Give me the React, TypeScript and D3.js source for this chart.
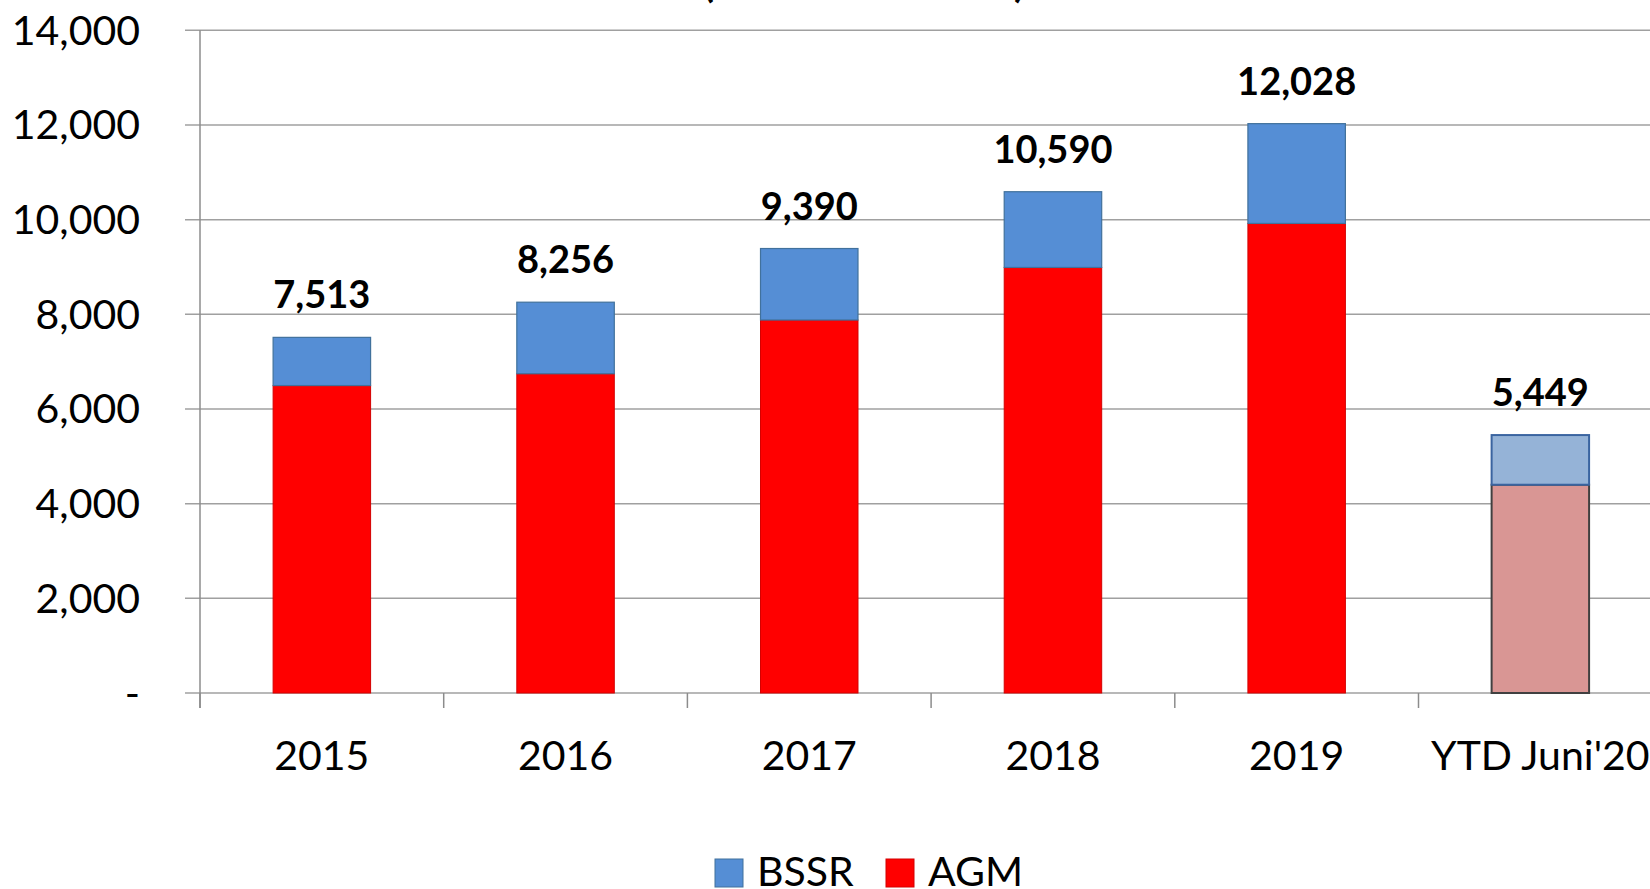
import React, { useEffect, useRef } from "react";
import * as d3 from "d3";

const categories = ["2015", "2016", "2017", "2018", "2019", "YTD Juni'20"];
const agm = [6495, 6745, 7880, 8990, 9920, 4400];
const bssr = [1018, 1511, 1510, 1600, 2108, 1049];
const totals = [7513, 8256, 9390, 10590, 12028, 5449];
const yTicks = [0, 2000, 4000, 6000, 8000, 10000, 12000, 14000];
const seriesNames = ["BSSR", "AGM"];
const titleText = "(Dalam Ribuan Ton)";

const W = 1650;
const H = 889;
const FONT = "Lato, 'Open Sans', sans-serif";

export default function App() {
  const ref = useRef<SVGSVGElement | null>(null);

  useEffect(() => {
    const svg = d3.select(ref.current);
    svg.selectAll("*").remove();

    const left = 200;
    const step = 243.7;
    const x = d3
      .scaleBand<string>()
      .domain(categories)
      .range([left, left + step * categories.length])
      .paddingInner(0.6)
      .paddingOuter(0.3);
    const y = d3.scaleLinear().domain([0, 14000]).range([693, 30.3]);

    // title (mostly cut off at top)
    svg
      .append("text")
      .attr("x", 703)
      .attr("y", -3)
      .attr("textLength", 322)
      .attr("lengthAdjust", "spacing")
      .attr("font-family", FONT)
      .attr("font-weight", "bold")
      .attr("font-size", 40)
      .attr("fill", "#000")
      .text(titleText);

    // gridlines
    svg
      .append("g")
      .selectAll("line")
      .data(yTicks)
      .join("line")
      .attr("x1", 185)
      .attr("x2", W)
      .attr("y1", (d) => y(d))
      .attr("y2", (d) => y(d))
      .attr("stroke", "#A0A0A0")
      .attr("stroke-width", 1.5);

    // y axis line
    svg
      .append("line")
      .attr("x1", left)
      .attr("x2", left)
      .attr("y1", y(14000))
      .attr("y2", 708)
      .attr("stroke", "#8C8C8C")
      .attr("stroke-width", 1.5);

    // x ticks at category boundaries
    const bounds = d3.range(categories.length + 1).map((i) => left + i * x.step());
    svg
      .append("g")
      .selectAll("line")
      .data(bounds)
      .join("line")
      .attr("x1", (d) => d)
      .attr("x2", (d) => d)
      .attr("y1", y(0))
      .attr("y2", 708)
      .attr("stroke", "#8C8C8C")
      .attr("stroke-width", 1.5);

    // y labels
    const fmt = d3.format(",");
    svg
      .append("g")
      .selectAll("text")
      .data(yTicks)
      .join("text")
      .attr("x", 140)
      .attr("y", (d) => y(d) + 14.5)
      .attr("text-anchor", "end")
      .attr("font-family", FONT)
      .attr("font-size", 41)
      .attr("fill", "#000")
      .text((d) => (d === 0 ? "-" : fmt(d)));

    // x labels
    svg
      .append("g")
      .selectAll("text")
      .data(categories)
      .join("text")
      .attr("x", (d) => (x(d) as number) + x.bandwidth() / 2)
      .attr("y", 770)
      .attr("text-anchor", "middle")
      .attr("font-family", FONT)
      .attr("font-size", 41)
      .attr("fill", "#000")
      .text((d) => d);

    const isYtd = (i: number) => i === categories.length - 1;

    // AGM bars
    svg
      .append("g")
      .selectAll("rect")
      .data(agm)
      .join("rect")
      .attr("x", (_d, i) => x(categories[i]) as number)
      .attr("width", x.bandwidth())
      .attr("y", (d) => y(d))
      .attr("height", (d) => y(0) - y(d))
      .attr("fill", (_d, i) => (isYtd(i) ? "#D99694" : "#FF0000"))
      .attr("stroke", (_d, i) => (isYtd(i) ? "#404040" : "#D40000"))
      .attr("stroke-width", (_d, i) => (isYtd(i) ? 2 : 1));

    // BSSR bars
    svg
      .append("g")
      .selectAll("rect")
      .data(bssr)
      .join("rect")
      .attr("x", (_d, i) => x(categories[i]) as number)
      .attr("width", x.bandwidth())
      .attr("y", (d, i) => y(agm[i] + d))
      .attr("height", (d, i) => y(agm[i]) - y(agm[i] + d))
      .attr("fill", (_d, i) => (isYtd(i) ? "#95B3D7" : "#558ED5"))
      .attr("stroke", (_d, i) => (isYtd(i) ? "#3A64A0" : "#41719C"))
      .attr("stroke-width", (_d, i) => (isYtd(i) ? 2 : 1.2));

    // total labels
    svg
      .append("g")
      .selectAll("text")
      .data(totals)
      .join("text")
      .attr("x", (_d, i) => (x(categories[i]) as number) + x.bandwidth() / 2)
      .attr("y", (d) => y(d) - 29)
      .attr("text-anchor", "middle")
      .attr("font-family", FONT)
      .attr("font-weight", "bold")
      .attr("font-size", 38)
      .attr("fill", "#000")
      .text((d) => fmt(d));

    // legend
    const legendColors = ["#558ED5", "#FF0000"];
    const legendStroke = ["#41719C", "#D40000"];
    const legendX = [715, 886];
    const lg = svg.append("g");
    seriesNames.forEach((name, i) => {
      lg.append("rect")
        .attr("x", legendX[i])
        .attr("y", 859)
        .attr("width", 28)
        .attr("height", 28)
        .attr("fill", legendColors[i])
        .attr("stroke", legendStroke[i])
        .attr("stroke-width", 1);
      lg.append("text")
        .attr("x", legendX[i] + 42)
        .attr("y", 886)
        .attr("font-family", FONT)
        .attr("font-size", 41)
        .attr("fill", "#000")
        .text(name);
    });
  }, []);

  return (
    <svg
      ref={ref}
      width={W}
      height={H}
      style={{ position: "absolute", left: 0, top: 0, display: "block", background: "#fff" }}
    />
  );
}
